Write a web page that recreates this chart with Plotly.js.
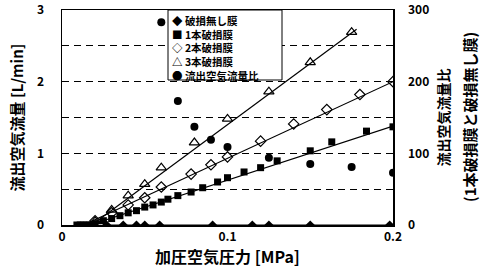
<!DOCTYPE html>
<html><head><meta charset="utf-8">
<script src="https://cdn.plot.ly/plotly-3.0.1.min.js"></script>
<style>html,body{margin:0;padding:0;background:#fff}</style>
</head><body><div id="chart" style="width:486px;height:272px"></div>
<script>
// ---- data ----
const seriesNames = ['破損無し膜', '1本破損膜', '2本破損膜', '3本破損膜', '流出空気流量比'];

const noneX = [0.027, 0.037, 0.045, 0.05, 0.059, 0.091, 0.115, 0.125, 0.15, 0.198];
const noneY = [0, 0, 0, 0, 0, 0, 0, 0, 0, 0];

const oneX = [0.009, 0.011, 0.013, 0.015, 0.017, 0.02, 0.025, 0.03, 0.035, 0.04, 0.045, 0.05, 0.055, 0.06, 0.064, 0.07, 0.078, 0.085, 0.094, 0.1, 0.11, 0.12, 0.13, 0.15, 0.163, 0.184, 0.2];
const oneY = [0, 0, 0, 0, 0, 0.02, 0.06, 0.09, 0.13, 0.17, 0.2, 0.25, 0.28, 0.32, 0.36, 0.41, 0.46, 0.52, 0.6, 0.66, 0.74, 0.8, 0.895, 1.035, 1.16, 1.31, 1.37];

const twoX = [0.02, 0.03, 0.04, 0.05, 0.06, 0.078, 0.09, 0.1, 0.12, 0.14, 0.16, 0.18, 0.2];
const twoY = [0.06, 0.17, 0.28, 0.38, 0.53, 0.71, 0.84, 0.95, 1.17, 1.41, 1.61, 1.82, 2.0];

const threeX = [0.02, 0.03, 0.04, 0.05, 0.06, 0.08, 0.1, 0.125, 0.15, 0.175];
const threeY = [0.05, 0.21, 0.41, 0.57, 0.8, 1.15, 1.48, 1.86, 2.27, 2.69];

const ratioX = [0.06, 0.07, 0.08, 0.09, 0.1, 0.125, 0.15, 0.175, 0.2];
const ratioY = [283, 173, 137, 119, 109, 94, 85, 81, 73];

// fitted straight lines (end points)
const fitOneX = [0.017, 0.2],   fitOneY = [0, 1.38];
const fitTwoX = [0.013, 0.2],   fitTwoY = [0, 2.0];
const fitThreeX = [0.018, 0.178], fitThreeY = [0, 2.73];

const xTicks = [0, 0.1, 0.2];
const yTicks = [0, 1, 2, 3];
const y2Ticks = [0, 100, 200, 300];

// ---- chart ----
const FONT = '"Noto Sans CJK JP", "Noto Sans", sans-serif';
const line = (x, y) => ({x, y, mode: 'lines', line: {color: '#000', width: 1.2}, showlegend: false, hoverinfo: 'skip'});

const traces = [
  line(fitOneX, fitOneY), line(fitTwoX, fitTwoY), line(fitThreeX, fitThreeY),
  {x: noneX, y: noneY, name: seriesNames[0], mode: 'lines+markers', line: {color: '#000', width: 1.2},
   marker: {symbol: 'diamond', size: 7, color: '#000'}},
  {x: oneX, y: oneY, name: seriesNames[1], mode: 'markers',
   marker: {symbol: 'square', size: 7, color: '#000'}},
  {x: twoX, y: twoY, name: seriesNames[2], mode: 'markers',
   marker: {symbol: 'diamond-open', size: 8, color: '#000', line: {width: 1.2}}},
  {x: threeX, y: threeY, name: seriesNames[3], mode: 'markers',
   marker: {symbol: 'triangle-up-open', size: 9, color: '#000', line: {width: 1.2}}},
  {x: ratioX, y: ratioY, name: seriesNames[4], yaxis: 'y2', mode: 'markers',
   marker: {symbol: 'circle', size: 8, color: '#000'}}
];

// legend drawn as one text block (tight row spacing like the reference)
const legendSyms = ['◆', '■', '◇', '△', '●'];
const L = 62, W = 331, B = 225, H = 215;
const px = v => (v - L) / W, py = v => (B - v) / H;
const legendText = seriesNames.map((n, i) => legendSyms[i] + ' ' + n).join('<br>');
const annotations = [
  {xref: 'paper', yref: 'paper', x: px(171), y: py(12), text: legendText, align: 'left',
    showarrow: false, xanchor: 'left', yanchor: 'top', borderpad: 0,
    font: {size: 10.5, family: FONT, weight: 'bold', color: '#000'}},
  {xref: 'paper', yref: 'paper', x: px(470), y: py(117), text: '(1本破損膜と破損無し膜)',
    textangle: -90, showarrow: false, xanchor: 'center', yanchor: 'middle',
    font: {size: 15, family: FONT, weight: 'bold', color: '#000'}}
];

const grid = '7px,5px';
const layout = {
  width: 486, height: 272,
  margin: {l: 62, r: 93, t: 10, b: 47},
  paper_bgcolor: '#fff', plot_bgcolor: '#fff',
  font: {family: FONT, size: 12, color: '#000', weight: 'bold'},
  showlegend: false,
  xaxis: {range: [0, 0.2], tickvals: xTicks, ticktext: xTicks.map(String), showgrid: false, zeroline: false,
    showline: true, mirror: true, linecolor: '#000', linewidth: 1.5, ticks: '',
    tickfont: {size: 12, weight: 'bold'}, automargin: false,
    title: {text: '加圧空気圧力 [MPa]', font: {size: 16, weight: 'bold'}, standoff: 4}},
  yaxis: {range: [0, 3], tickvals: yTicks, showgrid: true, gridcolor: '#000', gridwidth: 1, griddash: grid,
    minor: {dtick: 0.5, showgrid: true, gridcolor: '#000', gridwidth: 1, griddash: grid},
    zeroline: false, showline: true, mirror: true, linecolor: '#000', linewidth: 1.5, ticks: '',
    ticklabelstandoff: 14, tickfont: {size: 12, weight: 'bold'}, automargin: false,
    title: {text: '流出空気流量 [L/min]', font: {size: 15, weight: 'bold'}, standoff: 10}},
  yaxis2: {range: [0, 300], tickvals: y2Ticks, overlaying: 'y', side: 'right', showgrid: false, zeroline: false,
    showline: false, ticks: '', ticklabelstandoff: 14, tickfont: {size: 12, weight: 'bold'}, automargin: false,
    title: {text: '流出空気流量比', font: {size: 14, weight: 'bold'}, standoff: 10}},
  shapes: [{type: 'rect', xref: 'paper', yref: 'paper', x0: px(168), x1: px(282), y0: py(80), y1: 1,
    line: {color: '#000', width: 1}, fillcolor: '#fff', layer: 'above'}],
  annotations
};

Plotly.newPlot('chart', traces, layout, {displayModeBar: false, staticPlot: true});
</script></body></html>
